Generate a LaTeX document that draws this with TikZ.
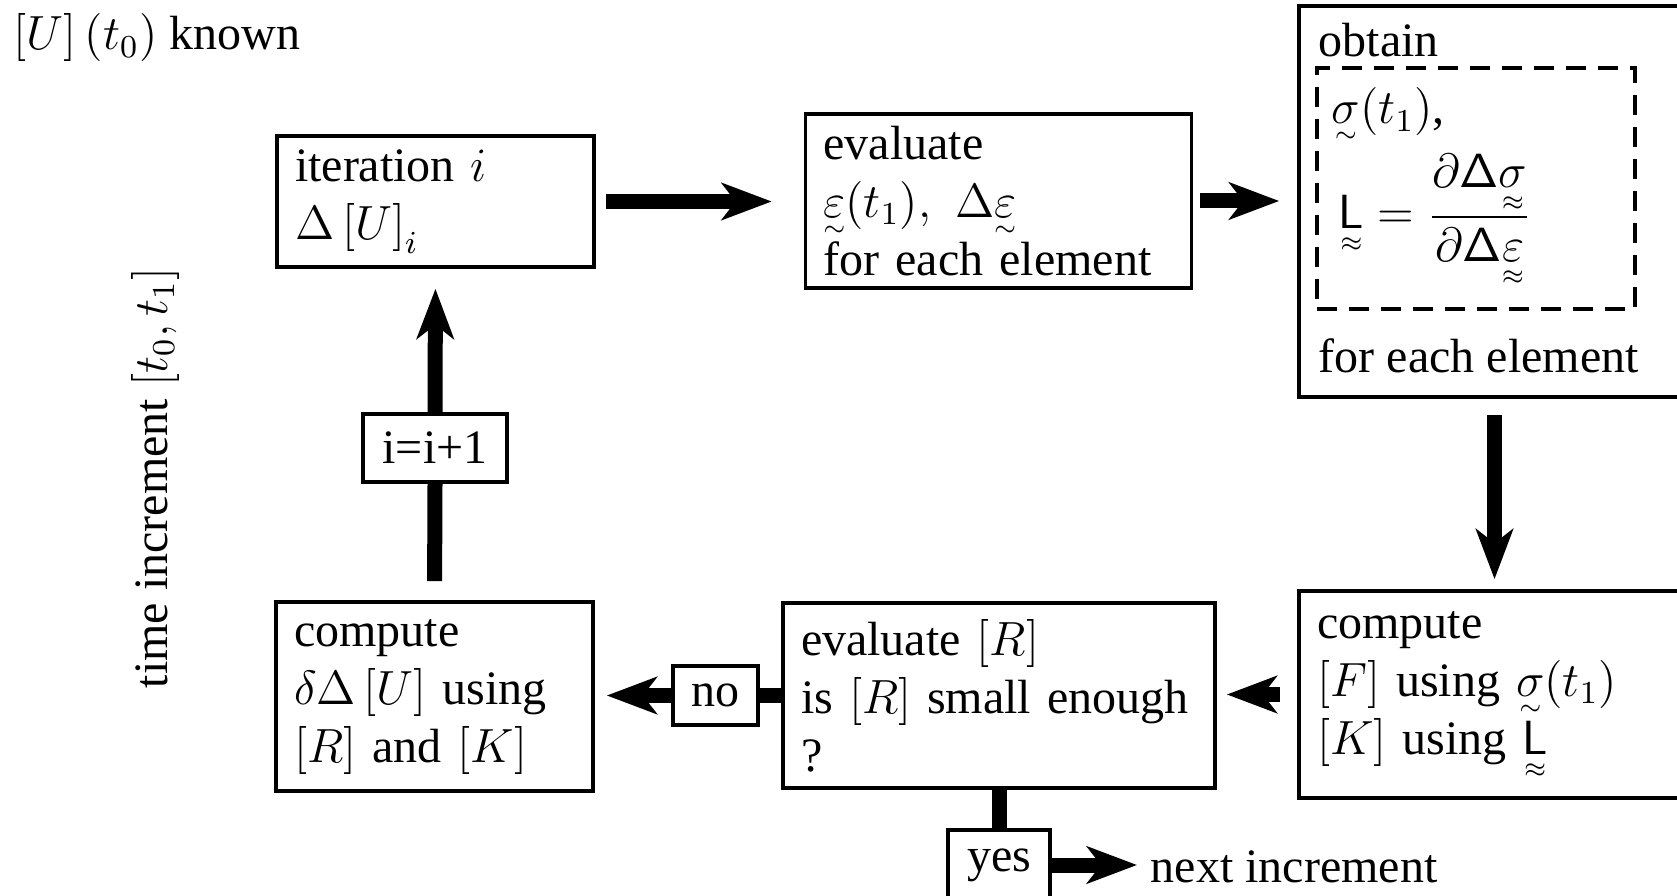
\documentclass[tikz,border=0pt]{standalone}
\usepackage{amsmath}
\usepackage[no-math]{fontspec}
\setmainfont{Liberation Serif}
\usetikzlibrary{arrows.meta}
\newcommand\utl[1]{\mathord{\hbox{\ooalign{$#1$\cr\hidewidth\lower4.5pt\hbox{$\scriptscriptstyle\sim$}\hidewidth\cr}}}}
\newcommand\utll[1]{\mathord{\hbox{\ooalign{$#1$\cr\hidewidth\lower5.5pt\hbox{$\scriptscriptstyle\approx$}\hidewidth\cr}}}}
\begin{document}
\begin{tikzpicture}[x=0.25pt,y=-0.25pt,
  every node/.style={font=\fontsize{12}{14.5}\selectfont},
  box/.style={draw,line width=0.9pt,inner xsep=4.5pt,inner ysep=0pt,align=left},
  tag/.style={draw,line width=0.9pt,fill=white,inner sep=0pt,align=center},
  plain/.style={inner sep=0pt},
  flow/.style={line width=3.75pt,-{Stealth[length=12.5pt,width=9.25pt,inset=3.5pt]}},
  link/.style={line width=3.75pt}]
\useasboundingbox (0,0) rectangle (1677,896);

\node[box,text width=70.25pt,minimum height=32.75pt] (iter) at (435.5,201.5)
  {iteration $i$\\ $\Delta\left[U\right]_i$};
\node[box,text width=87.5pt,minimum height=43.5pt] (evalE) at (998.5,201)
  {evaluate\\ $\utl{\varepsilon}(t_1),\ \Delta\utl{\varepsilon}$\\ for each element};
\node[box,minimum width=97.75pt,minimum height=97.75pt] (obtain) at (1494.5,201.5) {};
\node[plain,anchor=base west] (obtainlbl) at (1318,57) {obtain};
\node[draw,dash pattern=on 5pt off 3pt,line width=0.9pt,minimum width=79.5pt,minimum height=60.25pt] (tangent) at (1476,188.5) {};
\node[plain,anchor=base west] (sigma) at (1331,124) {$\utl\sigma(t_1)$,};
\node[plain,anchor=base west] (tanL) at (1338,229)
  {$\utll{\mathsf L} = \dfrac{\partial\mathsf{\Delta}\utll\sigma}{\partial\mathsf{\Delta}\utll\varepsilon}$};
\node[plain,anchor=base west] (foreach) at (1318,373) {for each element};

\node[box,text width=88.75pt,minimum height=51.75pt] (compF) at (1494.5,694.5)
  {compute\\ $\left[F\right]$ using $\utl\sigma(t_1)$\\ $\left[K\right]$ using $\utll{\mathsf L}$};
\node[box,text width=99pt,minimum height=46.25pt] (evalR) at (999,695.5)
  {evaluate $\left[R\right]$\\ is $\left[R\right]$ small enough\\ ?};
\node[box,text width=70.25pt,minimum height=47.25pt] (compD) at (434.5,696.5)
  {compute\\ $\delta\Delta\left[U\right]$ using\\ $\left[R\right]$ and $\left[K\right]$};

\node[tag,minimum width=21.25pt,minimum height=14.75pt] (no) at (715.5,695.5) {no};
\node[tag,minimum width=36pt,minimum height=17pt] (inc) at (435,448) {i=i+1};
\node[tag,minimum width=25.5pt,minimum height=17.5pt] (yes) at (999,865) {yes};

\node[plain,anchor=base west] (known) at (13,50) {$\left[U\right](t_0)$ known};
\node[plain,anchor=base,rotate=90] (tinc) at (167,478) {time increment $\left[t_0,t_1\right]$};
\node[plain,anchor=base west] (next) at (1150,882) {next increment};

\draw[flow,shorten <=2.5pt,shorten >=8pt] (iter.east) -- (iter.east -| evalE.west);
\draw[flow,shorten <=1.75pt,shorten >=4.5pt] (evalE.east) -- (evalE.east -| obtain.west);
\draw[flow,shorten <=4pt,shorten >=2.5pt] (obtain.south) -- (compF.north);
\draw[flow,shorten <=4.25pt,shorten >=2.5pt] (compF.west) -- (compF.west -| evalR.east);
\draw[link] (evalR.west) -- (no.east);
\draw[flow,shorten >=3pt] (no.west) -- (no.west -| compD.east);
\draw[link,shorten <=4.75pt] (compD.north) -- (inc.south);
\draw[flow,shorten >=5pt] (inc.north) -- (iter.south);
\draw[link] (evalR.south) -- (yes.north);
\draw[flow,shorten >=3.25pt] (yes.east) -- (yes.east -| next.west);
\end{tikzpicture}
\end{document}
